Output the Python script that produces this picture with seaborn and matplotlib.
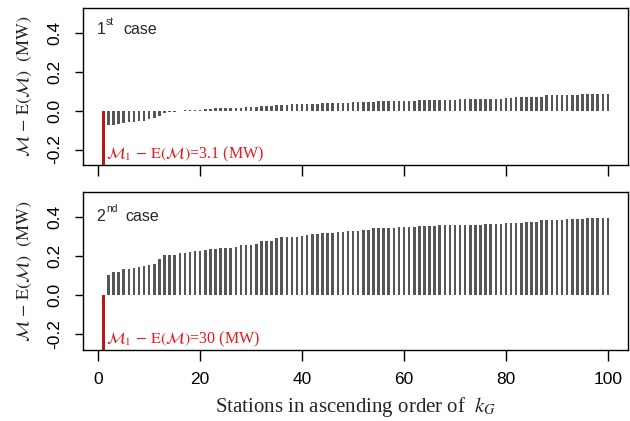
import numpy as np
import pandas as pd
import matplotlib
matplotlib.use("Agg")
import matplotlib.pyplot as plt
import seaborn as sns

# station index 1..100, station 1 is the large outlier (drawn in red, clipped)
stations = list(range(1, 101))
first_label = ["3.1", "30"]
first_value = [-3.1, -30.0]

# case 1, stations 2..100
case1 = [-0.072, -0.071, -0.067, -0.062, -0.058, -0.056, -0.053, -0.051, -0.041, -0.038, -0.029,
         -0.010, -0.008, -0.005, -0.003, 0.002, 0.003, 0.005, 0.006, 0.008, 0.010,
         0.012, 0.012, 0.013, 0.015, 0.016, 0.016, 0.019, 0.020, 0.021,
         0.025, 0.025, 0.025, 0.030, 0.030, 0.030, 0.035, 0.035, 0.037, 0.037,
         0.037, 0.037, 0.039, 0.041, 0.041, 0.041, 0.041, 0.041, 0.043, 0.043,
         0.043, 0.044, 0.044, 0.048, 0.048, 0.048, 0.048, 0.051, 0.051, 0.051,
         0.051, 0.056, 0.056, 0.056, 0.056, 0.056, 0.058, 0.058, 0.058, 0.060,
         0.060, 0.060, 0.060, 0.062, 0.062, 0.062, 0.063, 0.063, 0.064, 0.067,
         0.072, 0.072, 0.072, 0.072, 0.072, 0.072, 0.082, 0.082, 0.082, 0.082,
         0.082, 0.082, 0.082, 0.087, 0.087, 0.087, 0.087, 0.087, 0.087]

# case 2, stations 2..100
case2 = [0.104, 0.118, 0.120, 0.135, 0.135, 0.140, 0.145, 0.150, 0.155, 0.160, 0.187,
         0.206, 0.206, 0.206, 0.215, 0.215, 0.220, 0.225, 0.225, 0.230, 0.235,
         0.235, 0.240, 0.245, 0.245, 0.250, 0.260, 0.260, 0.260, 0.265,
         0.276, 0.280, 0.280, 0.294, 0.299, 0.299, 0.299, 0.299, 0.302, 0.309,
         0.314, 0.314, 0.320, 0.320, 0.320, 0.325, 0.325, 0.330, 0.330, 0.330,
         0.335, 0.335, 0.345, 0.345, 0.345, 0.345, 0.345, 0.351, 0.351, 0.351,
         0.351, 0.356, 0.356, 0.356, 0.356, 0.361, 0.361, 0.361, 0.363, 0.363,
         0.363, 0.363, 0.363, 0.363, 0.368, 0.368, 0.368, 0.368, 0.373, 0.373,
         0.373, 0.373, 0.378, 0.378, 0.378, 0.387, 0.387, 0.387, 0.387, 0.387,
         0.392, 0.392, 0.392, 0.392, 0.397, 0.397, 0.397, 0.399, 0.399]

ordinal = [("1", "st"), ("2", "nd")]
xticks = [0, 20, 40, 60, 80, 100]
yticks = [-0.2, 0.0, 0.2, 0.4]

sns.set_style("ticks")
plt.rcParams["font.family"] = ["Liberation Sans", "DejaVu Sans"]
plt.rcParams["mathtext.fontset"] = "stix"

GRAY = "#565656"
RED_BAR = "#b8161f"
RED_TXT = "#e41a1c"

fig = plt.figure(figsize=(6.3, 4.21), dpi=100)
ax_top = fig.add_axes([0.132, 0.608, 0.865, 0.373])
ax_bot = fig.add_axes([0.132, 0.169, 0.865, 0.375])

for i, (ax, vals) in enumerate([(ax_top, case1), (ax_bot, case2)]):
    df = pd.DataFrame({
        "station": stations,
        "value": [first_value[i]] + vals,
        "kind": ["first"] + ["rest"] * len(vals),
    })
    sns.barplot(data=df, x="station", y="value", hue="kind", native_scale=True,
                palette={"first": RED_BAR, "rest": GRAY}, width=0.5, dodge=False,
                saturation=1, errorbar=None, legend=False, linewidth=0, ax=ax)

    ax.set_xlim(-2.96, 103.96)
    ax.set_ylim(-0.28, 0.53)
    ax.set_xticks(xticks)
    ax.set_yticks(yticks)
    ax.set_yticklabels(["-0.2", "0.0", "0.2", "0.4"], rotation=90, va="center")
    ax.tick_params(axis="y", length=6, width=1, pad=9, labelsize=12.5, colors="black")
    ax.tick_params(axis="x", length=8, width=1, pad=8, labelsize=12.5, colors="black")
    for sp in ax.spines.values():
        sp.set_visible(True)
        sp.set_linewidth(1.0)
        sp.set_color("black")
    ax.set_xlabel("")
    ax.set_ylabel(r"$\mathcal{M}\,-\,\mathrm{E}(\mathcal{M})\ \ \mathrm{(MW)}$",
                  fontsize=13, family="Liberation Serif")
    ax.yaxis.set_label_coords(-0.09, 0.5)

    # "1st case" / "2nd case"
    num, sup = ordinal[i]
    ytxt = 0.395 if i == 0 else 0.383
    ax.text(-0.3, ytxt, num, fontsize=11.5, ha="left", va="baseline")
    ax.annotate(sup, xy=(1.5, ytxt), xytext=(0, 6.5), textcoords="offset points",
                fontsize=7.5, ha="left", va="baseline")
    ax.text(4.9 if i == 0 else 5.4, ytxt, "case", fontsize=11.5, ha="left", va="baseline")

    ax.text(1.5, -0.245, r"$\mathcal{M}_1\,-\,\mathrm{E}(\mathcal{M})$=" + first_label[i] + " (MW)",
            color=RED_TXT, fontsize=11.5, family="Liberation Serif", ha="left", va="baseline")

ax_top.set_xticklabels([])
ax_bot.set_xticklabels([str(t) for t in xticks])
ax_bot.set_xlabel(r"Stations in ascending order of  $k_G$", fontsize=15,
                  family="Liberation Serif", labelpad=6)

fig.savefig("out.png", dpi=100)
